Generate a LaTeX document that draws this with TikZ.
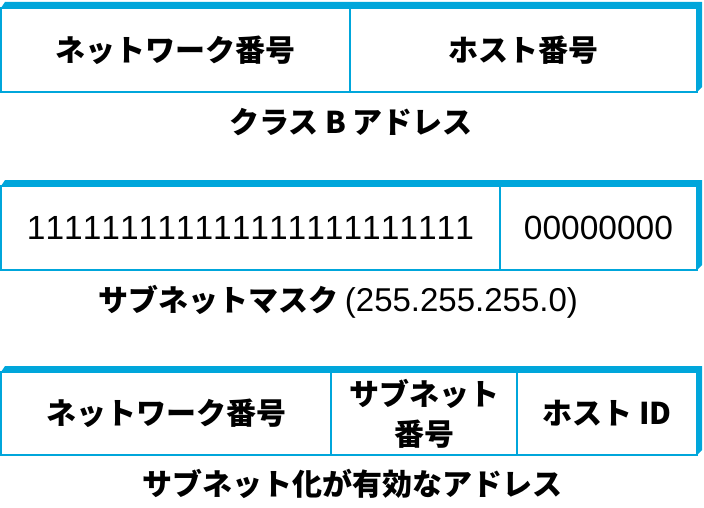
\documentclass[tikz,border=0pt]{standalone}
\usepackage{fontspec}
\newfontfamily\jpfont{Noto Sans CJK JP}
\newfontfamily\numfont{Liberation Sans}[Kerning=Off]
\definecolor{bandblue}{RGB}{0,166,219}
\newcommand{\raiseband}[4]{\fill[bandblue] (#1,#2) -- (#1+4,#2-6) -- (#3+5,#2-6) -- (#3+5,#4-5) -- (#3,#4) -- (#3,#2) -- cycle;}
\newcommand{\bitrun}[2]{\foreach \i in {1,...,#1}{#2}}
\tikzset{
    cell/.style={draw=bandblue, line width=2pt, inner sep=0pt, outer sep=0pt, anchor=north west, align=center,
        font=\jpfont\bfseries\fontsize{30}{40}\selectfont},
    bits/.style={cell, font=\numfont\fontsize{33.5}{40}\selectfont},
    caption/.style={font=\jpfont\bfseries\fontsize{30}{36}\selectfont},
}

\begin{document}
\begin{tikzpicture}[x=1pt,y=-1pt]
            \useasboundingbox (0,0) rectangle (704,508);
            % class B
            \raiseband{1}{8}{697}{92}
            \node[cell, minimum width=349pt, minimum height=84pt] (netB) at (1,8) {ネットワーク番号};
            \node[cell, minimum width=347pt, minimum height=84pt] (hostB) at (netB.north east) {ホスト番号};
            \node[caption] (capB) at (351,122) {クラス B アドレス};
            % mask
            \raiseband{1}{186}{697}{270}
            \node[bits, minimum width=499pt, minimum height=84pt] (ones) at (1,186) {\bitrun{24}{1}};
            \node[bits, minimum width=197pt, minimum height=84pt] (zeros) at (ones.north east) {\bitrun{8}{0}};
            \node[caption] (capmask) at (338,302) {サブネットマスク {\numfont\mdseries\fontsize{33}{36}\selectfont(255.255.255.0)}};
            % subnetted
            \raiseband{1}{372}{697}{455}
            \node[cell, minimum width=330pt, minimum height=83pt] (netS) at (1,372) {ネットワーク番号};
            \node[cell, minimum width=186pt, minimum height=83pt] (subS) at (netS.north east) {サブネット\\番号};
            \node[cell, minimum width=180pt, minimum height=83pt] (hostS) at (subS.north east) {ホスト ID};
            \node[caption] (capS) at (352,484) {サブネット化が有効なアドレス};
        \end{tikzpicture}
\end{document}
